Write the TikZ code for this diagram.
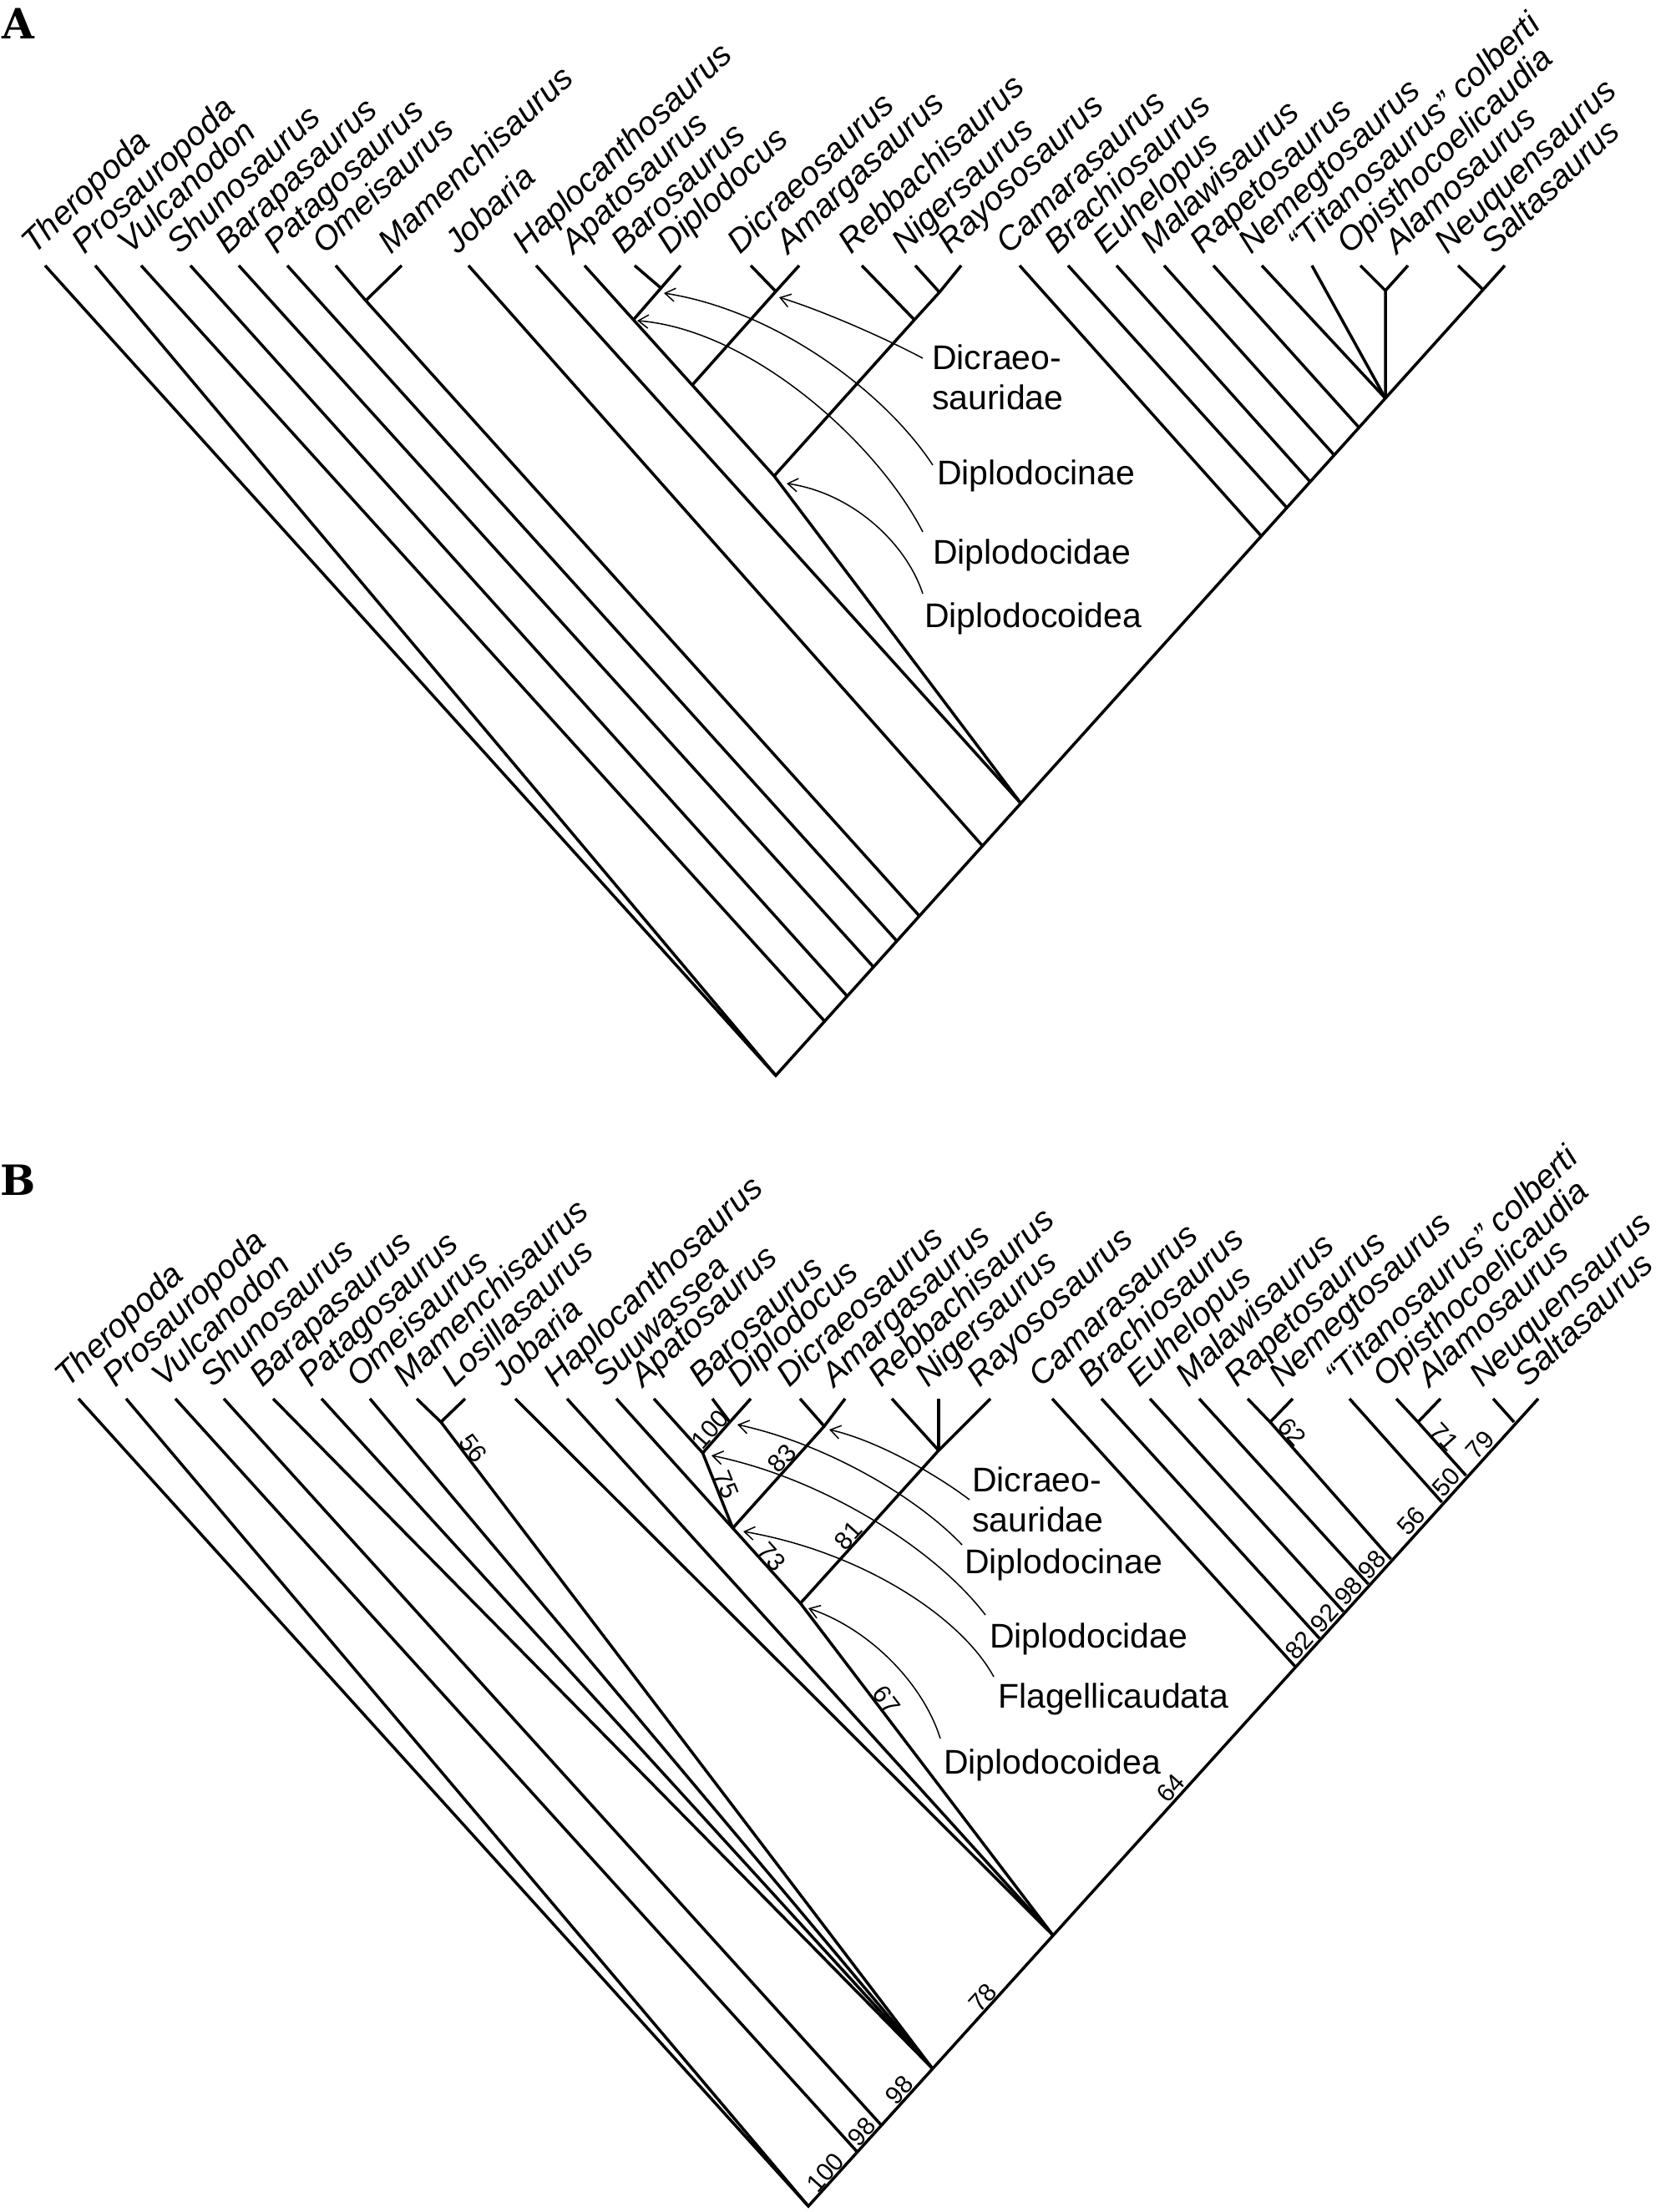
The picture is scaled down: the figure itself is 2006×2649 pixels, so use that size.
\documentclass[tikz,border=0pt]{standalone}
\usepackage{fontspec}
\setmainfont{Liberation Sans}
\newfontfamily\panelfont{DejaVu Serif}
\usetikzlibrary{arrows.meta,calc}
\tikzset{
 br/.style={line width=3.5pt, line join=miter},
 taxon/.style={font=\fontsize{40}{48}\selectfont\itshape, rotate=43.5, anchor=base west, inner sep=0pt},
 clade/.style={font=\fontsize{41}{48}\selectfont, anchor=base west, inner sep=0pt},
 num/.style={font=\fontsize{30}{32}\selectfont, sloped, anchor=south, inner sep=1.2pt},
 ptr/.style={line width=1.5pt, -{Straight Barb[length=12pt,width=16pt]}},
 panel/.style={font=\panelfont\bfseries\fontsize{50}{50}\selectfont, anchor=north west, inner sep=0pt},
}
\newcommand\taxtip[4]{\coordinate (#1) at (#2,#3); \node[taxon] (L#1) at ($(#1)+(-13,-12)$) {#4};}
\begin{document}
\begin{tikzpicture}[x=1pt,y=-1pt]
\useasboundingbox (0,0) rectangle (2006,2649);
\node[panel] (pA) at (2,10) {A};
\node[panel] (pB) at (0,1395) {B};

% ---------------- Panel A tips ----------------
\taxtip{AThero}{54}{318}{Theropoda}
\taxtip{AProso}{114}{318}{Prosauropoda}
\taxtip{AVulc}{169}{318}{Vulcanodon}
\taxtip{AShuno}{228}{318}{Shunosaurus}
\taxtip{ABarap}{286}{318}{Barapasaurus}
\taxtip{APatag}{344}{318}{Patagosaurus}
\taxtip{AOmei}{402}{318}{Omeisaurus}
\taxtip{AMamen}{481}{318}{Mamenchisaurus}
\taxtip{AJoba}{561}{318}{Jobaria}
\taxtip{AHaplo}{642}{318}{Haplocanthosaurus}
\taxtip{AApato}{700}{318}{Apatosaurus}
\taxtip{ABaros}{760}{318}{Barosaurus}
\taxtip{ADiplo}{815}{318}{Diplodocus}
\taxtip{ADicr}{899}{318}{Dicraeosaurus}
\taxtip{AAmarg}{957}{318}{Amargasaurus}
\taxtip{ARebb}{1032}{318}{Rebbachisaurus}
\taxtip{ANiger}{1096}{318}{Nigersaurus}
\taxtip{ARayo}{1151}{318}{Rayososaurus}
\taxtip{ACamar}{1221}{318}{Camarasaurus}
\taxtip{ABrach}{1279}{318}{Brachiosaurus}
\taxtip{AEuhel}{1337}{318}{Euhelopus}
\taxtip{AMalaw}{1394}{318}{Malawisaurus}
\taxtip{ARapet}{1453}{318}{Rapetosaurus}
\taxtip{ANemeg}{1511}{318}{Nemegtosaurus}
\taxtip{ATitan}{1571}{318}{“Titanosaurus” colberti}
\taxtip{AOpist}{1629}{318}{Opisthocoelicaudia}
\taxtip{AAlamo}{1686}{318}{Alamosaurus}
\taxtip{ANeuq}{1746}{318}{Neuquensaurus}
\taxtip{ASalta}{1802}{318}{Saltasaurus}

% ---------------- Panel A nodes ----------------
\coordinate (aR) at (929,1288);
\coordinate (a1) at (987.5,1223);
\coordinate (a2) at (1014.5,1193);
\coordinate (a3) at (1046,1158);
\coordinate (a4) at (1074,1127);
\coordinate (a5) at (1101,1097);
\coordinate (a6) at (1176.5,1013);
\coordinate (a7) at (1222.4,962);
\coordinate (aCam) at (1510.4,642);
\coordinate (aBr) at (1541,608);
\coordinate (aEu) at (1569,577);
\coordinate (aMa) at (1597.7,545);
\coordinate (aRa) at (1627.4,512);
\coordinate (aT) at (1659,477);
\coordinate (aNS) at (1776,347);
\coordinate (aOM) at (438,360);
\coordinate (aDI) at (927,570);
\coordinate (aDF) at (829,461);
\coordinate (aDP) at (758.5,383);
\coordinate (aDN) at (791.5,345);
\coordinate (aDC) at (929,349);
\coordinate (aRB) at (1095,383);
\coordinate (aNR) at (1125,350);
\coordinate (aOA) at (1659,348);

\draw[br] (AThero) -- (aR) -- (ASalta);
\draw[br] (AProso) -- (aR);
\draw[br] (AVulc) -- (a1);
\draw[br] (AShuno) -- (a2);
\draw[br] (ABarap) -- (a3);
\draw[br] (APatag) -- (a4);
\draw[br] (AOmei) -- (aOM) -- (a5);
\draw[br] (AMamen) -- (aOM);
\draw[br] (AJoba) -- (a6);
\draw[br] (AHaplo) -- (a7);
\draw[br] (AApato) -- (aDI) -- (a7);
\draw[br] (ABaros) -- (aDN);
\draw[br] (ADiplo) -- (aDN) -- (aDP);
\draw[br] (ADicr) -- (aDC);
\draw[br] (AAmarg) -- (aDC) -- (aDF);
\draw[br] (ARebb) -- (aRB);
\draw[br] (ANiger) -- (aNR);
\draw[br] (ARayo) -- (aNR) -- (aRB) -- (aDI);
\draw[br] (ACamar) -- (aCam);
\draw[br] (ABrach) -- (aBr);
\draw[br] (AEuhel) -- (aEu);
\draw[br] (AMalaw) -- (aMa);
\draw[br] (ARapet) -- (aRa);
\draw[br] (ANemeg) -- (aT);
\draw[br] (ATitan) -- (aT);
\draw[br] (AOpist) -- (aOA) -- (aT);
\draw[br] (AAlamo) -- (aOA);
\draw[br] (ANeuq) -- (aNS);

% clade labels A
\node[clade, align=left, anchor=north west] (cA1) at (1116,413) {Dicraeo-\\sauridae};
\node[clade] (cA2) at (1122,580) {Diplodocinae};
\node[clade] (cA3) at (1117,675) {Diplodocidae};
\node[clade] (cA4) at (1107,751) {Diplodocoidea};
\coordinate (sA1) at (1105,429);
\coordinate (sA2) at (1117,557);
\coordinate (sA3) at (1105,637);
\coordinate (sA4) at (1105,711);
\coordinate (hA1) at (933,356);
\coordinate (hA2) at (795,351);
\coordinate (hA3) at (763,384);
\coordinate (hA4) at (942,579);
\draw[ptr] (sA1) .. controls (1060,405) and (985,372) .. (hA1);
\draw[ptr] (sA2) .. controls (1060,470) and (930,372) .. (hA2);
\draw[ptr] (sA3) .. controls (1050,530) and (900,395) .. (hA3);
\draw[ptr] (sA4) .. controls (1085,650) and (1020,590) .. (hA4);

% ---------------- Panel B tips ----------------
\taxtip{BThero}{94}{1675}{Theropoda}
\taxtip{BProso}{151}{1675}{Prosauropoda}
\taxtip{BVulc}{210}{1675}{Vulcanodon}
\taxtip{BShuno}{268}{1675}{Shunosaurus}
\taxtip{BBarap}{327}{1675}{Barapasaurus}
\taxtip{BPatag}{385}{1675}{Patagosaurus}
\taxtip{BOmei}{443}{1675}{Omeisaurus}
\taxtip{BMamen}{499}{1675}{Mamenchisaurus}
\taxtip{BLosil}{557}{1675}{Losillasaurus}
\taxtip{BJoba}{617}{1675}{Jobaria}
\taxtip{BHaplo}{679}{1675}{Haplocanthosaurus}
\taxtip{BSuuw}{738}{1675}{Suuwassea}
\taxtip{BApato}{783}{1675}{Apatosaurus}
\taxtip{BBaros}{853}{1675}{Barosaurus}
\taxtip{BDiplo}{899}{1675}{Diplodocus}
\taxtip{BDicr}{958}{1675}{Dicraeosaurus}
\taxtip{BAmarg}{1012}{1675}{Amargasaurus}
\taxtip{BRebb}{1068}{1675}{Rebbachisaurus}
\taxtip{BNiger}{1124}{1675}{Nigersaurus}
\taxtip{BRayo}{1186}{1675}{Rayososaurus}
\taxtip{BCamar}{1260}{1675}{Camarasaurus}
\taxtip{BBrach}{1319}{1675}{Brachiosaurus}
\taxtip{BEuhel}{1377}{1675}{Euhelopus}
\taxtip{BMalaw}{1436}{1675}{Malawisaurus}
\taxtip{BRapet}{1494}{1675}{Rapetosaurus}
\taxtip{BNemeg}{1548}{1675}{Nemegtosaurus}
\taxtip{BTitan}{1616}{1675}{“Titanosaurus” colberti}
\taxtip{BOpist}{1672}{1675}{Opisthocoelicaudia}
\taxtip{BAlamo}{1725}{1675}{Alamosaurus}
\taxtip{BNeuq}{1788}{1675}{Neuquensaurus}
\taxtip{BSalta}{1842}{1675}{Saltasaurus}

% ---------------- Panel B nodes ----------------
\coordinate (bR) at (968,2642);
\coordinate (bV) at (1026.5,2577);
\coordinate (bS) at (1055.3,2545);
\coordinate (bE) at (1116.5,2477);
\coordinate (bN) at (1260.5,2317);
\coordinate (bCam) at (1550.3,1995);
\coordinate (bBr) at (1580,1962);
\coordinate (bEu) at (1608.8,1930);
\coordinate (bMa) at (1638.5,1897);
\coordinate (bRN) at (1665.5,1867);
\coordinate (bP) at (1726.7,1799);
\coordinate (bQ) at (1755.5,1767);
\coordinate (bNS) at (1813,1703);
\coordinate (bML) at (528,1703);
\coordinate (bRT) at (1521,1703);
\coordinate (bOA) at (1698,1703);
\coordinate (bDI) at (958.5,1920);
\coordinate (bFL) at (877.5,1830);
\coordinate (bDP) at (841.5,1740);
\coordinate (bDN) at (874,1703);
\coordinate (bDC) at (987,1708);
\coordinate (bRB) at (1124,1737);

\draw[br] (BThero) -- (bR) -- (BSalta);
\draw[br] (BProso) -- (bR);
\draw[br] (BVulc) -- (bV);
\draw[br] (BShuno) -- (bS);
\draw[br] (BBarap) -- (bE);
\draw[br] (BPatag) -- (bE);
\draw[br] (BOmei) -- (bE);
\draw[br] (BMamen) -- (bML) -- (bE);
\draw[br] (BLosil) -- (bML);
\draw[br] (BJoba) -- (bN);
\draw[br] (BHaplo) -- (bN);
\draw[br] (BSuuw) -- (bDI) -- (bN);
\draw[br] (BApato) -- (bDP) -- (bFL);
\draw[br] (BBaros) -- (bDN);
\draw[br] (BDiplo) -- (bDN) -- (bDP);
\draw[br] (BDicr) -- (bDC);
\draw[br] (BAmarg) -- (bDC) -- (bFL);
\draw[br] (BRebb) -- (bRB);
\draw[br] (BNiger) -- (bRB);
\draw[br] (BRayo) -- (bRB) -- (bDI);
\draw[br] (BCamar) -- (bCam);
\draw[br] (BBrach) -- (bBr);
\draw[br] (BEuhel) -- (bEu);
\draw[br] (BMalaw) -- (bMa);
\draw[br] (BRapet) -- (bRT) -- (bRN);
\draw[br] (BNemeg) -- (bRT);
\draw[br] (BTitan) -- (bP);
\draw[br] (BOpist) -- (bOA) -- (bQ);
\draw[br] (BAlamo) -- (bOA);
\draw[br] (BNeuq) -- (bNS);

% support values
\path (bR) -- node[num,pos=.5] (n1) {100} (bV);
\path (bV) -- node[num,pos=.5] (n2) {98} (bS);
\path (bS) -- node[num,pos=.5] (n3) {98} (bE);
\path (bE) -- node[num,pos=.48] (n4) {78} (bN);
\path (bN) -- node[num,pos=.52] (n5) {64} (bCam);
\path (bCam) -- node[num,pos=.5] (n6) {82} (bBr);
\path (bBr) -- node[num,pos=.5] (n7) {92} (bEu);
\path (bEu) -- node[num,pos=.5] (n8) {98} (bMa);
\path (bMa) -- node[num,pos=.5] (n9) {98} (bRN);
\path (bRN) -- node[num,pos=.55] (n10) {56} (bP);
\path (bP) -- node[num,pos=.5] (n11) {50} (bQ);
\path (bQ) -- node[num,pos=.45] (n12) {79} (bNS);
\path (bOA) -- node[num,pos=.4] (n13) {71} (bQ);
\path (bRT) -- node[num,pos=.12] (n14) {62} (bRN);
\path (bML) -- node[num,pos=.05] (n15) {56} (bE);
\path (bDP) -- node[num,pos=.55] (n16) {100} (bDN);
\path (bDP) -- node[num,pos=.47] (n17) {75} (bFL);
\path (bFL) -- node[num,pos=.62] (n18) {83} (bDC);
\path (bFL) -- node[num,pos=.47] (n19) {73} (bDI);
\path (bDI) -- node[num,pos=.4] (n20) {81} (bRB);
\path (bDI) -- node[num,pos=.31] (n21) {67} (bN);

% clade labels B
\node[clade, align=left, anchor=north west] (cB1) at (1164,1757) {Dicraeo-\\sauridae};
\node[clade] (cB2) at (1155,1884) {Diplodocinae};
\node[clade] (cB3) at (1185,1973) {Diplodocidae};
\node[clade] (cB4) at (1195,2045) {Flagellicaudata};
\node[clade] (cB5) at (1130,2124) {Diplodocoidea};
\coordinate (sB1) at (1161,1796);
\coordinate (sB2) at (1152,1850);
\coordinate (sB3) at (1180,1934);
\coordinate (sB4) at (1190,2008);
\coordinate (sB5) at (1126,2082);
\coordinate (hB1) at (993,1712);
\coordinate (hB2) at (883,1706);
\coordinate (hB3) at (852,1743);
\coordinate (hB4) at (890,1834);
\coordinate (hB5) at (968,1926);
\draw[ptr] (sB1) .. controls (1120,1765) and (1050,1725) .. (hB1);
\draw[ptr] (sB2) .. controls (1095,1790) and (985,1728) .. (hB2);
\draw[ptr] (sB3) .. controls (1120,1855) and (985,1770) .. (hB3);
\draw[ptr] (sB4) .. controls (1150,1935) and (1030,1858) .. (hB4);
\draw[ptr] (sB5) .. controls (1105,2015) and (1040,1950) .. (hB5);
\end{tikzpicture}
\end{document}
